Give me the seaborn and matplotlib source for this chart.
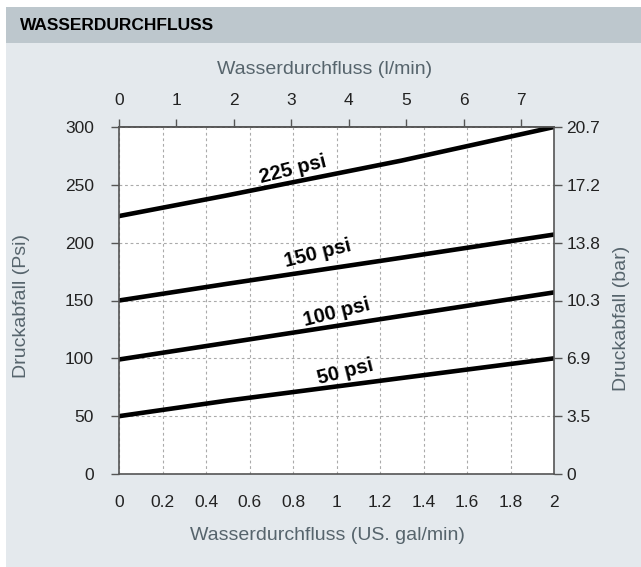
import matplotlib
matplotlib.use("Agg")
import matplotlib.pyplot as plt
import seaborn as sns
import pandas as pd
from matplotlib.patches import Rectangle

# ---- data ----
flow_gal = [0.0, 0.5, 1.3, 2.0]
drop_225 = [223, 241, 271, 300]
drop_150 = [150, 164.5, 187, 207]
drop_100 = [99, 113.5, 136.7, 157]
drop_50 = [50, 63.5, 83, 100]
series_names = ["225 psi", "150 psi", "100 psi", "50 psi"]
label_pos_x = [0.80, 0.915, 1.00, 1.04]
label_pos_y = [263, 191, 140, 88]

bottom_ticks = [0, 0.2, 0.4, 0.6, 0.8, 1, 1.2, 1.4, 1.6, 1.8, 2]
bottom_labels = ["0", "0.2", "0.4", "0.6", "0.8", "1", "1.2", "1.4", "1.6", "1.8", "2"]
top_ticks_l = [0, 1, 2, 3, 4, 5, 6, 7]
left_ticks = [0, 50, 100, 150, 200, 250, 300]
right_labels = ["0", "3.5", "6.9", "10.3", "13.8", "17.2", "20.7"]
L_PER_GAL = 3.785

rows = []
for name, vals in zip(series_names, [drop_225, drop_150, drop_100, drop_50]):
    for x, y in zip(flow_gal, vals):
        rows.append({"flow": x, "drop": y, "series": name})
df = pd.DataFrame(rows)

sns.set_theme(style="white")
plt.rcParams['font.family'] = ['Liberation Sans', 'DejaVu Sans']

W, H = 641, 567
fig = plt.figure(figsize=(W / 100, H / 100), dpi=100)
fig.patch.set_facecolor("white")

body_col = "#e4e9ed"
head_col = "#bdc7cd"
txt_col = "#56646c"
spine_col = "#555555"
tick_txt = "#222222"

fig.add_artist(Rectangle((6 / W, 0), 1 - 6 / W, 1 - 7 / H, transform=fig.transFigure,
                         facecolor=body_col, edgecolor="none", zorder=-10))
fig.add_artist(Rectangle((6 / W, 1 - 43 / H), 1 - 6 / W, 36 / H, transform=fig.transFigure,
                         facecolor=head_col, edgecolor="none", zorder=-9))
fig.text(20 / W, 1 - 25 / H, "WASSERDURCHFLUSS", fontsize=12.5, fontweight="bold",
         color="black", va="center", ha="left")

ax = fig.add_axes([119 / W, 1 - 474 / H, (554 - 119) / W, (474 - 127) / H])
ax.set_facecolor("white")

sns.lineplot(data=df, x="flow", y="drop", hue="series",
             palette=["black"] * 4, linewidth=3.3, legend=False, ax=ax)

ax.set_xlim(0, 2)
ax.set_ylim(0, 300)
ax.set_xticks(bottom_ticks)
ax.set_xticklabels(bottom_labels)
ax.set_yticks(left_ticks)
ax.grid(True, color="#aaaaaa", linestyle=(0, (2.5, 2.5)), linewidth=0.8)
ax.set_xlabel("")
ax.set_ylabel("")

for s in ax.spines.values():
    s.set_visible(True)
    s.set_color(spine_col)
    s.set_linewidth(1.2)

ax.tick_params(axis="both", direction="out", length=6, width=1, color=spine_col,
               labelsize=12.5, labelcolor=tick_txt)
ax.tick_params(axis="x", pad=9)
ax.tick_params(axis="y", pad=12)

for name, lx, ly in zip(series_names, label_pos_x, label_pos_y):
    ax.text(lx, ly, name, fontsize=14.5, fontweight="bold", color="black",
            rotation=14, ha="center", va="center", rotation_mode="anchor")

top = ax.secondary_xaxis("top", functions=(lambda g: g * L_PER_GAL, lambda l: l / L_PER_GAL))
top.set_xticks(top_ticks_l)
top.tick_params(direction="out", length=6, width=1, color=spine_col,
                labelsize=12.5, labelcolor=tick_txt, pad=8)
top.spines["top"].set_color(spine_col)

right = ax.twinx()
right.set_ylim(0, 300)
right.set_yticks(left_ticks)
right.set_yticklabels(right_labels)
right.grid(False)
for s in right.spines.values():
    s.set_visible(False)
right.tick_params(axis="y", direction="out", length=6, width=1, color=spine_col,
                  labelsize=12.5, labelcolor=tick_txt, pad=3)

# axis titles
fig.text(325 / W, 1 - 70 / H, "Wasserdurchfluss (l/min)", fontsize=14, color=txt_col,
         ha="center", va="center")
fig.text(327 / W, 1 - 535 / H, "Wasserdurchfluss (US. gal/min)", fontsize=14, color=txt_col,
         ha="center", va="center")
fig.text(22 / W, 1 - 306 / H, "Druckabfall (Psi)", fontsize=14, color=txt_col,
         ha="center", va="center", rotation=90)
fig.text(622 / W, 1 - 318 / H, "Druckabfall (bar)", fontsize=14, color=txt_col,
         ha="center", va="center", rotation=90)

fig.savefig("out.png", dpi=100, facecolor=fig.get_facecolor())
